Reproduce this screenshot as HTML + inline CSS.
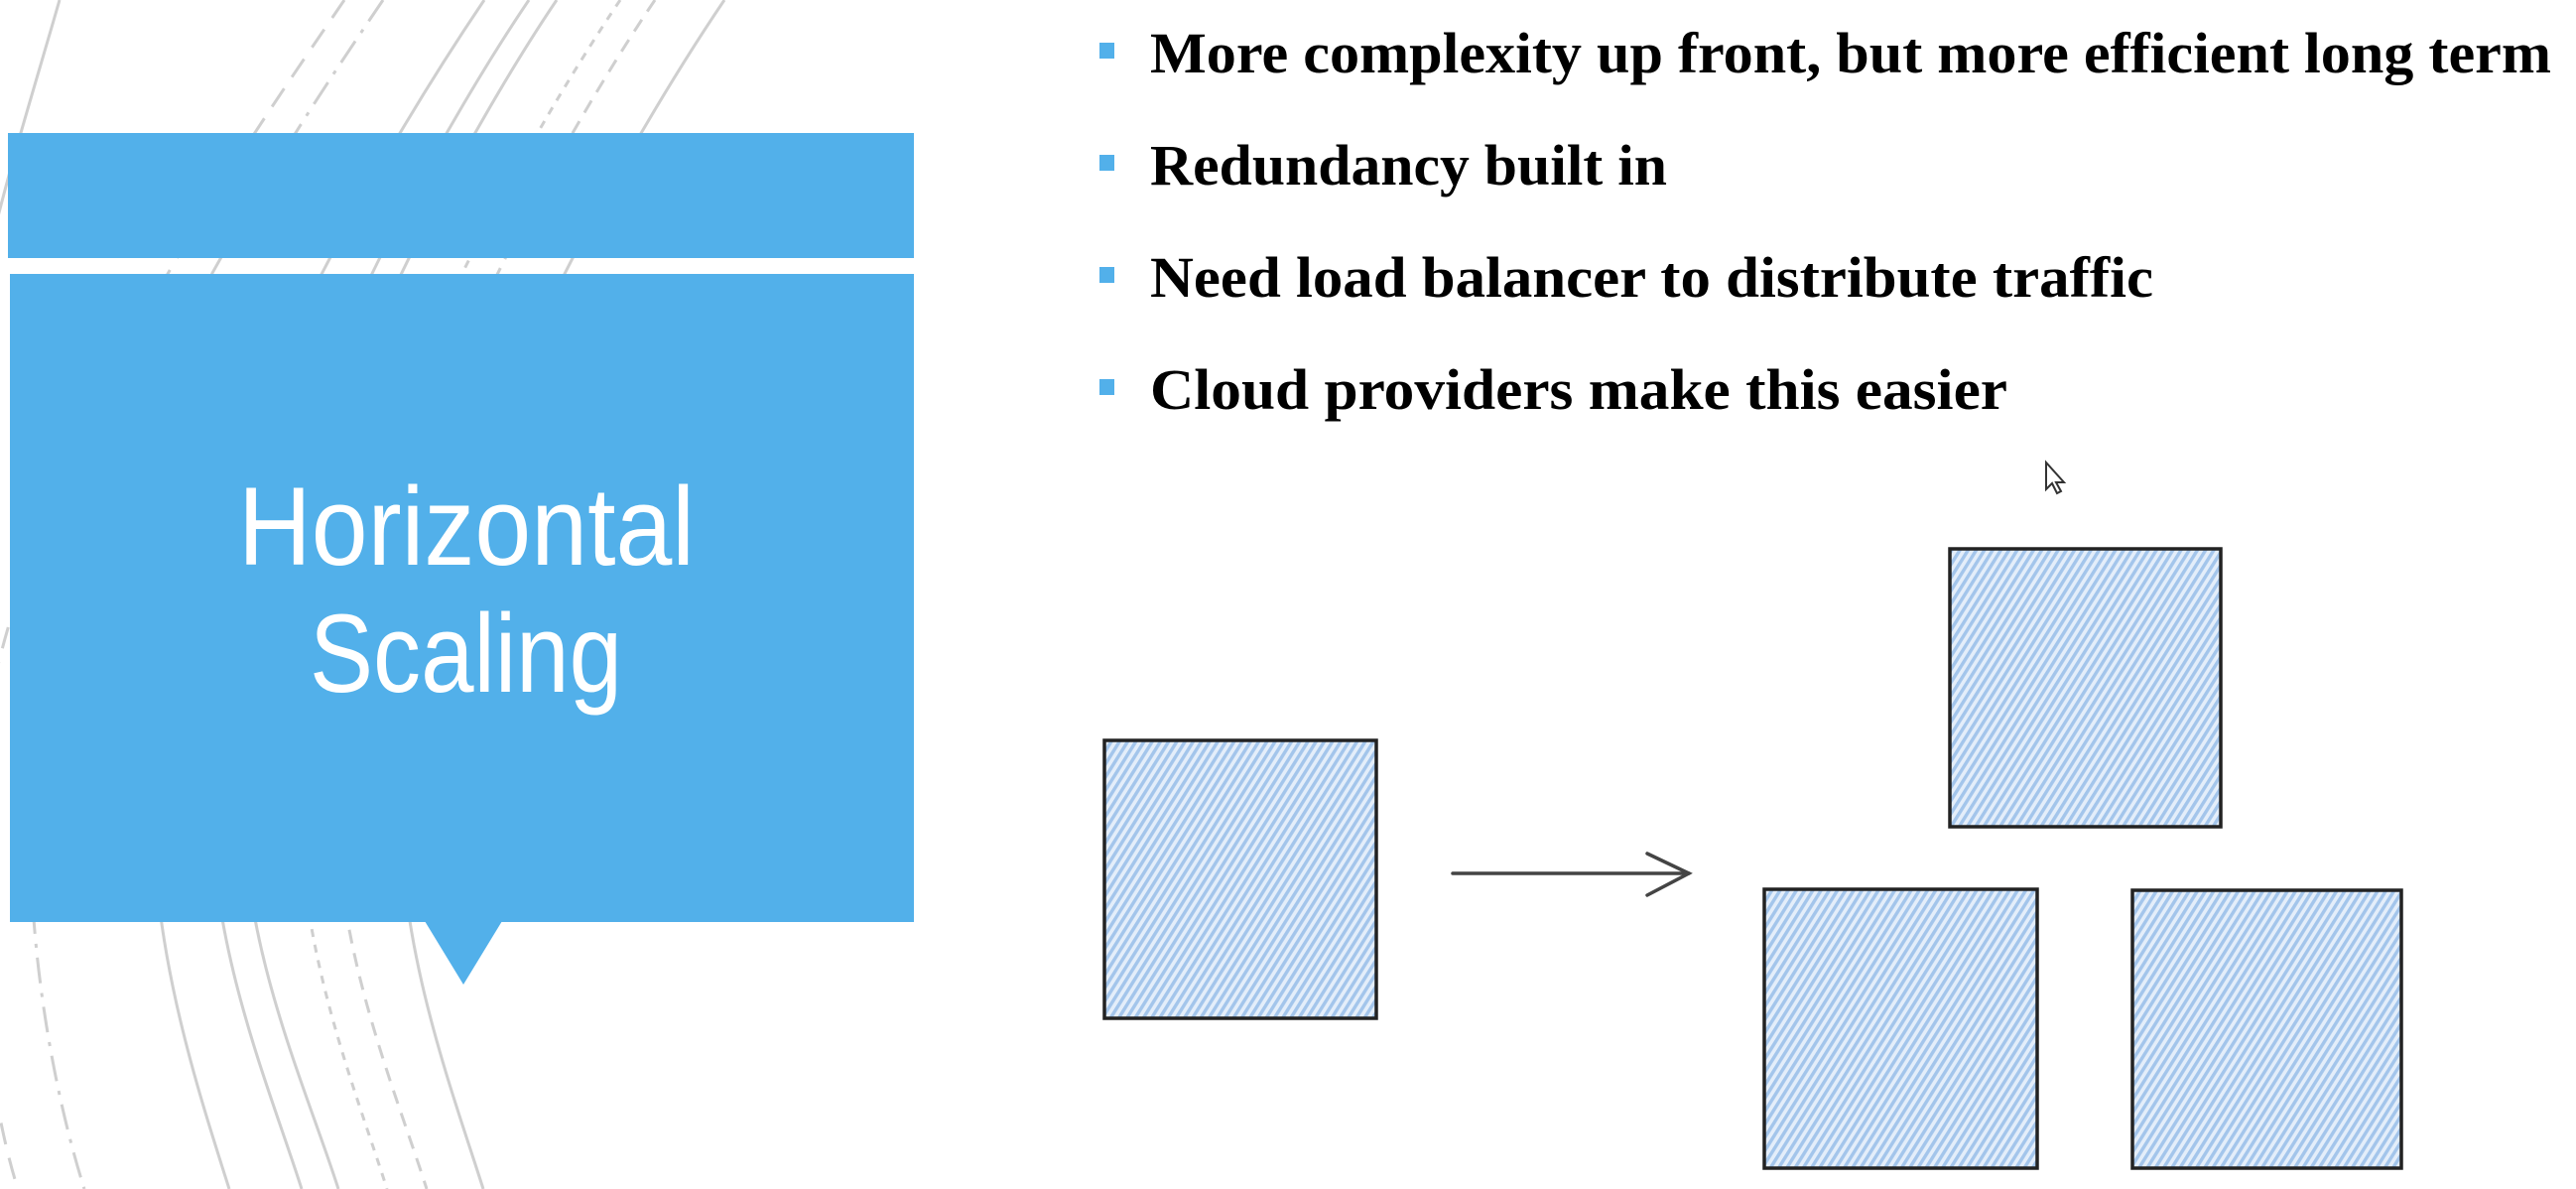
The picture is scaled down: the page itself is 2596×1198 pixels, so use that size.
<!DOCTYPE html>
<html><head><meta charset="utf-8"><style>
html,body{margin:0;padding:0;background:#fff;}
svg{display:block;}
</style></head><body>
<svg width="2596" height="1198" viewBox="0 0 2596 1198" xmlns="http://www.w3.org/2000/svg">
<defs>
<pattern id="h" patternUnits="userSpaceOnUse" width="7" height="7" patternTransform="rotate(-58)">
<rect width="7" height="7" fill="#e4eefa"/>
<rect x="0" y="0" width="7" height="3.4" fill="#a3c5eb"/>
</pattern>
</defs>
<rect width="2596" height="1198" fill="#fff"/>
<!-- background arcs -->
<g fill="none" stroke="#cfcfcf" stroke-width="3">
<path d="M60 0 C40 70 15 150 -5 230"/>
<path d="M347 0 C259 130 -7 500 -22 800 C-27 950 -13 1100 18 1198" stroke-dasharray="22 14"/>
<path d="M386 0 C298 130 46 500 31 800 C26 950 54 1100 85 1198" stroke-dasharray="26 10 4 10"/>
<path d="M488 0 C400 130 170 500 155 800 C150 950 200 1100 231 1198"/>
<path d="M533 0 C445 130 229 500 214 800 C209 950 273 1100 304 1198"/>
<path d="M561 0 C473 130 261 500 246 800 C241 950 310 1100 341 1198"/>
<path d="M625 0 C537 130 318 500 303 800 C298 950 359 1100 390 1198" stroke-dasharray="8 8"/>
<path d="M660 0 C572 130 355 500 340 800 C335 950 399 1100 430 1198" stroke-dasharray="14 10"/>
<path d="M730 0 C642 130 419 500 404 800 C399 950 456 1100 487 1198"/>
</g>
<!-- title panel -->
<rect x="8" y="134" width="913" height="126" fill="#52b0ea"/>
<rect x="10" y="276" width="911" height="653" fill="#52b0ea"/>
<polygon points="428,928 506,928 467,992" fill="#52b0ea"/>
<g font-family="Liberation Sans, sans-serif" font-size="112" fill="#fff">
<text x="240" y="569" textLength="460" lengthAdjust="spacingAndGlyphs">Horizontal</text>
<text x="312" y="697" textLength="315" lengthAdjust="spacingAndGlyphs">Scaling</text>
</g>
<!-- bullets -->
<g fill="#52b0ea">
<rect x="1108" y="43" width="15" height="16"/>
<rect x="1108" y="156" width="15" height="16"/>
<rect x="1108" y="269" width="15" height="16"/>
<rect x="1108" y="382" width="15" height="16"/>
</g>
<g font-family="Liberation Serif, serif" font-weight="bold" font-size="58" fill="#000">
<text x="1159" y="73" textLength="1412" lengthAdjust="spacingAndGlyphs">More complexity up front, but more efficient long term</text>
<text x="1159" y="186" textLength="521" lengthAdjust="spacingAndGlyphs">Redundancy built in</text>
<text x="1159" y="299" textLength="1011" lengthAdjust="spacingAndGlyphs">Need load balancer to distribute traffic</text>
<text x="1159" y="412" textLength="864" lengthAdjust="spacingAndGlyphs">Cloud providers make this easier</text>
</g>
<!-- boxes -->
<g fill="url(#h)" stroke="#222" stroke-width="3.5">
<rect x="1113" y="746" width="274" height="280"/>
<rect x="1965" y="553" width="273" height="280"/>
<rect x="1778" y="896" width="275" height="281"/>
<rect x="2149" y="897" width="271" height="280"/>
</g>
<!-- arrow -->
<g stroke="#444" stroke-width="3.5" fill="none" stroke-linecap="round">
<line x1="1464" y1="880" x2="1702" y2="880"/>
<polyline points="1660,860 1702,880 1660,902"/>
</g>
<!-- cursor -->
<path d="M2062 466 L2062 493 L2068 487 L2073 497 L2077 495 L2072 486 L2080 486 Z" fill="#fff" stroke="#333" stroke-width="2"/>
</svg>
</body></html>
